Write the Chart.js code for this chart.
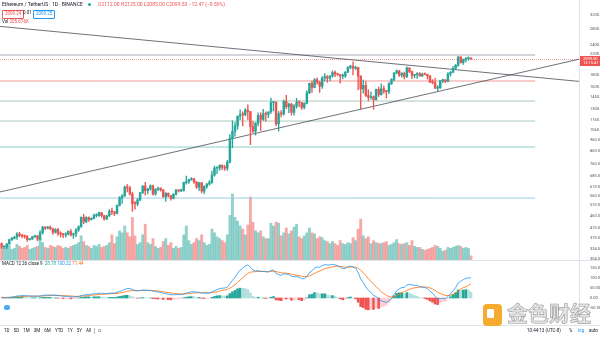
<!DOCTYPE html>
<html>
<head>
<meta charset="utf-8">
<script src="https://cdn.jsdelivr.net/npm/chart.js@4.4.1/dist/chart.umd.min.js"></script>
<style>
  body { margin: 0; width: 600px; height: 337px; overflow: hidden; background: #fff; position: relative;
         font-family: Roboto, "Liberation Sans", sans-serif; }
  canvas { position: absolute; left: 0; }
  #price { top: 0; }
  #macd { top: 260px; }
  .t { position: absolute; white-space: nowrap; line-height: 1; color: #131722; font-size: 5px; }
  .sep { position: absolute; background: #e0e3eb; }
  .box { position: absolute; font-size: 4.5px; line-height: 1; padding: 1px 2px; border: 0.6px solid; border-radius: 1px; }
</style>
</head>
<body>
<canvas id="price" width="600" height="260"></canvas>
<canvas id="macd" width="600" height="66"></canvas>

<div class="sep" style="left:0;top:260px;width:600px;height:1px"></div>
<div class="sep" style="left:0;top:325px;width:600px;height:1px"></div>

<!-- header -->
<div class="t" style="left:2px;top:2px">Ethereum / TetherUS · 1D · BINANCE</div>
<div style="position:absolute;left:88px;top:3px;width:3px;height:3px;border-radius:50%;background:#26a69a"></div>
<div class="t" style="left:98px;top:2px;color:#ef5350">O2112.00 H2125.00 L2085.00 C2099.53 −12.47 (−0.59%)</div>
<div class="box" style="left:2px;top:10px;color:#ef5350;border-color:#ef5350">2099.24</div>
<div class="t" style="left:23px;top:11px;font-size:4.5px">0.01</div>
<div class="box" style="left:33px;top:10px;color:#2196f3;border-color:#2196f3">2099.25</div>
<div class="t" style="left:2px;top:20px;font-size:4.5px">Vol <span style="color:#ef5350">205.676K</span></div>

<!-- macd legend -->
<div class="t" style="left:2px;top:262px;font-size:4.5px">MACD 12 26 close 9 &nbsp;<span style="color:#26a69a">28.78</span> <span style="color:#2196f3">100.22</span> <span style="color:#ff6d00">71.44</span></div>
<div style="position:absolute;left:4px;top:305px;width:6px;height:5px;border-radius:2px;background:#2196f3;opacity:0.8"></div>

<!-- bottom toolbar -->
<div class="t" style="left:4px;top:329px;font-size:4.5px;word-spacing:3px">1D 5D 1M 3M 6M YTD 1Y 5Y All</div>
<div class="sep" style="left:94px;top:328px;width:0.6px;height:6px;background:#b2b5be"></div>
<div class="t" style="left:98px;top:329px;font-size:4.5px;color:#787b86">⧉</div>
<div class="t" style="left:527px;top:329px;font-size:4.5px">10:44:13 (UTC-8)</div>
<div class="t" style="left:569px;top:329px;font-size:4.5px">%</div>
<div class="t" style="left:578px;top:329px;font-size:4.5px;color:#2196f3">log</div>
<div class="t" style="left:589px;top:329px;font-size:4.5px">auto</div>

<!-- watermark -->
<div style="position:absolute;left:483px;top:304px;width:19px;height:22px;background:#f5a623;border-radius:4px;opacity:0.95"></div>
<div style="position:absolute;left:487px;top:309px;width:7px;height:9px;background:#fff;border-radius:1px"></div>
<div class="t" style="left:507px;top:302px;font-size:21px;font-weight:bold;font-family:'Noto Sans CJK SC';color:#e4e4e4;-webkit-text-stroke:0.6px #9a9a9a;letter-spacing:0px">金色财经</div>

<script>
// ETH/USDT daily candles, 2020-10-06 .. 2021-04-07 (index 0 = Oct 6)
const startLabel = '2020-10-06';

const opens = [
  352,341,341,351,365,370,375,387,381,379,377,366,368,377,379,368,391,413,409,412,406,393,404,388,386,383,
  386,396,383,387,402,415,454,435,453,444,449,462,462,475,461,447,460,481,479,471,509,548,559,608,603,569,518,517,538,575,
  615,587,598,616,569,596,601,592,554,573,560,545,568,590,586,589,636,642,654,659,639,608,634,585,612,626,635,683,731,731,751,
  737,730,774,976,1042,1100,1208,1225,1224,1281,1262,1090,1044,1130,1218,1171,1233,1230,1257,1377,1382,1121,1236,1234,1392,1324,1357,1253,1331,1382,1377,
  1314,1369,1514,1660,1594,1718,1677,1614,1750,1769,1744,1783,1843,1814,1804,1779,1781,1848,1937,1960,1919,1935,1781,1571,1626,1475,1446,1459,
  1417,1565,1488,1573,1539,1531,1654,1724,1835,1870,1794,1826,1772,1924,1854,1790,1806,1823,1782,1812,1810,1782,1680,1669,1582,1588,1702,1716,1690,1817,1846,
  1919,1977,2143,2028,2093,2107,2112
];
const highs = [
  355,344,352,368,374,378,392,393,384,383,381,370,378,382,381,399,416,415,416,418,409,407,408,395,389,392,
  398,404,390,407,418,456,467,457,456,452,468,470,478,476,464,464,489,497,481,512,555,566,615,623,614,579,530,545,578,616,
  637,600,622,620,598,608,605,594,577,575,561,571,595,593,596,639,677,658,667,662,643,637,637,615,630,648,710,745,740,755,754,
  750,787,1011,1153,1135,1210,1283,1260,1300,1348,1265,1146,1134,1246,1250,1290,1260,1262,1440,1392,1388,1264,1275,1415,1477,1370,1367,1350,1435,1400,1380,
  1375,1545,1664,1695,1740,1750,1690,1770,1825,1790,1790,1870,1871,1830,1810,1820,1860,1950,1975,2041,1960,1938,1782,1710,1690,1560,1525,1468,
  1570,1600,1650,1620,1550,1670,1735,1840,1890,1880,1840,1850,1946,1930,1870,1812,1842,1840,1830,1835,1812,1790,1720,1740,1627,1708,1730,1720,1840,1862,1950,
  1990,2150,2145,2100,2128,2143,2125
];
const lows = [
  336,336,335,349,363,368,367,376,372,371,360,364,367,373,362,365,386,403,406,403,385,390,381,375,373,375,
  383,378,370,377,396,412,427,431,436,442,447,455,458,454,442,444,458,466,461,469,506,520,556,580,563,481,491,508,532,572,
  562,570,590,562,562,588,585,550,530,553,536,542,563,580,582,585,626,630,649,630,600,588,575,570,600,620,630,676,692,715,720,
  715,715,769,890,995,1064,1168,1100,1210,1170,917,1030,1005,1100,1050,1160,1150,1190,1240,1270,1100,1045,1200,1220,1300,1250,1220,1220,1305,1325,1290,
  1296,1360,1500,1520,1590,1645,1520,1580,1700,1675,1700,1760,1770,1790,1660,1730,1755,1840,1910,1800,1895,1560,1300,1510,1460,1400,1425,1290,
  1410,1460,1480,1505,1440,1500,1640,1700,1820,1775,1760,1730,1752,1840,1735,1750,1740,1780,1770,1800,1730,1670,1650,1580,1545,1580,1670,1670,1680,1780,1840,
  1900,1955,2018,1990,2040,2070,2085
];
const closes = [
  341,341,351,365,370,375,387,381,379,377,366,368,377,379,368,391,413,409,412,406,393,404,388,386,383,386,
  396,383,387,402,415,454,435,453,444,449,462,462,475,461,447,460,481,479,471,509,548,559,608,603,569,518,517,538,575,615,
  587,598,616,569,596,601,592,554,573,560,545,568,590,586,589,636,642,654,659,639,608,634,585,612,626,635,683,731,731,751,737,
  730,774,976,1042,1100,1208,1225,1224,1281,1262,1090,1044,1130,1218,1171,1233,1230,1257,1377,1382,1121,1236,1234,1392,1324,1357,1253,1331,1382,1377,1314,
  1369,1514,1660,1594,1718,1677,1614,1750,1769,1744,1783,1843,1814,1804,1779,1781,1848,1937,1960,1919,1935,1781,1571,1626,1475,1446,1459,1417,
  1565,1488,1573,1539,1531,1654,1724,1835,1870,1794,1826,1772,1924,1854,1790,1806,1823,1782,1812,1810,1782,1680,1669,1582,1588,1702,1716,1690,1817,1846,1919,
  1977,2143,2028,2093,2107,2112,2099.5
];
// volume, thousands of ETH
const volumes = [
  630,580,680,730,530,580,780,680,580,630,730,530,580,630,680,1070,870,630,580,730,680,630,730,680,580,630,
  580,680,730,780,870,1210,920,730,680,580,730,680,780,630,680,730,870,1260,820,1160,1460,1360,1700,1360,1160,2130,1210,780,870,1260,
  1790,870,780,1070,680,580,630,920,1070,730,870,580,680,580,630,1260,1700,970,780,870,1070,970,1260,870,730,780,1550,1360,1160,1070,970,
  870,1260,2230,3300,2130,1940,1700,1550,1260,1750,3150,1890,1460,1360,1460,1160,1070,1070,1840,1700,1890,1840,1210,1360,1600,1310,1460,1650,1790,1160,1070,
  1210,1360,1600,1360,1310,1070,1160,1120,970,920,820,920,820,730,970,820,780,870,820,1120,970,1550,2040,1210,1070,1160,820,970,
  870,820,820,870,920,730,780,870,1020,820,780,820,870,730,970,680,630,630,530,490,530,580,630,730,680,580,440,490,630,580,630,
  680,730,680,580,630,580,205.676
];
const macdLine = [
  2,1,1,3,5,7,10,11,12,12,11,10,10,10,9,10,13,14,15,15,14,14,12,11,9,8,
  8,6,5,6,8,12,14,17,18,19,21,22,24,24,22,22,24,25,25,28,33,37,43,47,47,43,38,36,37,40,
  39,38,38,34,32,30,28,24,22,19,16,16,17,17,17,21,25,28,31,31,29,29,25,24,24,25,30,37,42,47,49,
  50,54,71,88,104,124,139,149,160,165,154,140,135,137,133,133,131,130,137,141,122,118,113,121,119,118,108,106,107,104,96,
  97,108,127,136,150,155,154,162,167,165,165,168,166,161,154,147,148,156,160,155,150,128,95,78,55,38,27,12,
  8,-8,-14,-18,-22,-15,-2,18,36,45,52,53,65,68,66,63,62,57,55,52,47,35,24,8,-4,-3,-1,-3,8,20,36,
  52,75,84,92,98,101,100.22
];
const signalLine = [
  4,3,3,3,3,4,5,6,7,8,9,9,9,9,9,9,10,11,12,12,13,13,13,12,12,11,
  11,10,9,8,8,9,10,11,12,14,15,16,18,19,19,20,21,22,22,23,25,27,30,33,36,37,37,37,37,38,
  38,38,38,37,36,35,33,31,29,27,25,23,22,21,20,20,21,22,24,25,26,26,26,26,26,26,27,29,31,35,38,
  40,43,49,57,66,78,90,101,113,123,129,131,132,133,133,133,133,132,133,134,132,129,126,125,124,122,119,116,114,112,109,
  107,107,111,117,123,130,134,141,146,150,153,156,158,159,158,156,154,154,155,155,154,149,138,126,112,97,83,69,
  57,44,32,22,13,7,5,7,13,19,26,32,38,44,48,51,53,54,55,55,54,50,45,38,29,22,17,13,12,14,18,
  25,35,45,52,56,63,71.44
];

// time axis labels (day index from Oct 6)
const tickDays   = [6, 16, 26, 41, 56, 69, 87, 97, 107, 118, 132, 146, 160, 177];
const tickLabels = ['12', '22', 'Nov', '16', 'Dec', '14', '2021', '11', '21', 'Feb', '15', 'Mar', '15', 'Apr'];

const priceTicks = [3200, 2800, 2400, 2200, 1800, 1600, 1450, 1300, 1160, 1060, 960, 860, 760, 680, 610, 560, 510, 460, 410, 370, 334, 304];
const macdTicks = [150, 100, 50, 0, -50];

// drawings: [dayIndex, price]
const trendDown = [[-1, 2880], [226, 1687]];
const trendUp = [[-1, 579], [226, 2106]];
const levels = [2182, 1697, 1398, 1152, 896, 547];
const levelColors = ['#c5c7ce', '#f29a97', '#a9cbb8', '#a9cbb8', '#8ad0c7', '#9fcbe6'];
const levelSpan = [-1, 208];

const lastPrice = closes[closes.length - 1];

const UP = '#26a69a', DOWN = '#ef5350';
const xMin = -0.62, xMax = 225.1;

const candleColors = closes.map((c, i) => c >= opens[i] ? UP : DOWN);
const volColors = closes.map((c, i) => c >= opens[i] ? 'rgba(38,166,154,0.5)' : 'rgba(239,83,80,0.5)');

const histogram = macdLine.map((m, i) => m - signalLine[i]);
const histColors = histogram.map((h, i) => {
  const prev = i > 0 ? histogram[i - 1] : h;
  if (h >= 0) return h >= prev ? '#26a69a' : '#b2dfdb';
  return h >= prev ? '#ffcdd2' : '#ef5350';
});

const axisFont = { family: 'Roboto', size: 4 };

function fixedWidth(s) { s.width = 21; s.paddingTop = 0; s.paddingBottom = 0; }

const lineSet = (pts, color, width, dash) => ({
  type: 'line',
  data: pts.map(p => ({ x: p[0], y: p[1] })),
  borderColor: color,
  borderWidth: width,
  borderDash: dash || [],
  pointRadius: 0,
  order: 2
});

const priceTag = {
  id: 'priceTag',
  beforeDatasetsDraw(chart) {
    const y = Math.round(chart.scales.y.getPixelForValue(lastPrice)) + 0.5;
    const a = chart.chartArea, ctx = chart.ctx;
    ctx.save();
    ctx.strokeStyle = 'rgba(239,83,80,0.55)';
    ctx.lineWidth = 1;
    ctx.setLineDash([1, 1]);
    ctx.beginPath();
    ctx.moveTo(a.left, y);
    ctx.lineTo(a.right, y);
    ctx.stroke();
    ctx.restore();
  },
  afterDraw(chart) {
    const y = chart.scales.y.getPixelForValue(lastPrice);
    const a = chart.chartArea, ctx = chart.ctx;
    ctx.save();
    ctx.fillStyle = '#ef5350';
    ctx.fillRect(a.right + 1, y - 3, 20, 10);
    ctx.fillStyle = '#fff';
    ctx.font = '4px Roboto';
    ctx.textBaseline = 'middle';
    ctx.fillText(lastPrice.toFixed(2), a.right + 4, y + 0.5);
    ctx.fillText('13:15:47', a.right + 4, y + 4.5);
    ctx.restore();
  }
};

new Chart(document.getElementById('price'), {
  type: 'bar',
  data: {
    datasets: [
      {
        label: 'body',
        data: closes.map((c, i) => ({ x: i, y: [opens[i], c] })),
        backgroundColor: candleColors,
        barThickness: 1.8,
        minBarLength: 1,
        grouped: false,
        order: 0
      },
      {
        label: 'wick',
        data: closes.map((c, i) => ({ x: i, y: [lows[i], highs[i]] })),
        backgroundColor: candleColors,
        barThickness: 0.7,
        grouped: false,
        order: 1
      },
      lineSet(trendDown, '#4a4d57', 0.8),
      lineSet(trendUp, '#4a4d57', 0.8),
      ...levels.map((v, k) => lineSet([[levelSpan[0], v], [levelSpan[1], v]], levelColors[k], k === 0 ? 1.6 : 1)),
      {
        label: 'volume',
        data: volumes.map((v, i) => ({ x: i, y: v })),
        yAxisID: 'yv',
        backgroundColor: volColors,
        barThickness: 2.2,
        grouped: false,
        order: 5
      }
    ]
  },
  options: {
    responsive: false,
    animation: false,
    layout: { padding: 0 },
    plugins: { legend: { display: false }, tooltip: { enabled: false } },
    scales: {
      x: { type: 'linear', min: xMin, max: xMax, display: false, offset: false },
      y: {
        type: 'logarithmic', position: 'right', min: 300.5, max: 3714,
        grid: { display: false },
        border: { color: '#e0e3eb' },
        afterBuildTicks: s => { s.ticks = priceTicks.map(v => ({ value: v })); },
        afterFit: fixedWidth,
        ticks: { font: axisFont, color: '#50535e', padding: 3, autoSkip: false, callback: v => Number(v).toFixed(2) }
      },
      yv: { type: 'linear', display: false, min: 0, max: 13000 }
    }
  },
  plugins: [priceTag]
});

new Chart(document.getElementById('macd'), {
  type: 'bar',
  data: {
    datasets: [
      {
        type: 'line',
        data: macdLine.map((v, i) => ({ x: i, y: v })),
        borderColor: '#2196f3', borderWidth: 0.8, pointRadius: 0, order: 0
      },
      {
        type: 'line',
        data: signalLine.map((v, i) => ({ x: i, y: v })),
        borderColor: '#ff6d00', borderWidth: 0.8, pointRadius: 0, order: 1
      },
      {
        data: histogram.map((v, i) => ({ x: i, y: v })),
        backgroundColor: histColors,
        barThickness: 2,
        grouped: false,
        order: 2
      }
    ]
  },
  options: {
    responsive: false,
    animation: false,
    layout: { padding: 0 },
    plugins: { legend: { display: false }, tooltip: { enabled: false } },
    scales: {
      x: {
        type: 'linear', min: xMin, max: xMax, offset: false,
        grid: { display: false },
        border: { display: false },
        afterBuildTicks: s => { s.ticks = tickDays.map(v => ({ value: v })); },
        afterFit: s => { s.height = 12; s.paddingLeft = 0; s.paddingRight = 0; },
        ticks: { font: axisFont, color: '#50535e', padding: 3, autoSkip: false, maxRotation: 0,
                 callback: (v, i) => tickLabels[i] }
      },
      y: {
        position: 'right', min: -80, max: 190,
        grid: { display: false },
        border: { color: '#e0e3eb' },
        afterBuildTicks: s => { s.ticks = macdTicks.map(v => ({ value: v })); },
        afterFit: fixedWidth,
        ticks: { font: axisFont, color: '#50535e', padding: 3, autoSkip: false, callback: v => Number(v).toFixed(2) }
      }
    }
  }
});
</script>
</body>
</html>
